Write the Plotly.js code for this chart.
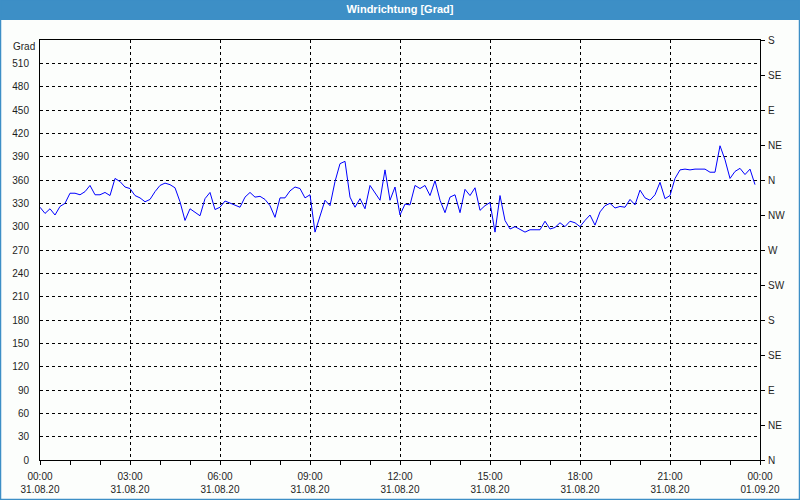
<!DOCTYPE html>
<html>
<head>
<meta charset="utf-8">
<script src="https://cdn.plot.ly/plotly-3.0.1.min.js"></script>
<style>html,body{margin:0;padding:0;background:#fcfefc;}#chart{width:800px;height:500px;}</style>
</head>
<body>
<div id="chart"></div>
<script>
// Wind direction (degrees), 10-minute values from 31.08.20 00:00 to 23:50
const startTime = '2020-08-31 00:00';
const stepMs = 600000;
const windDirection = [
  325,317,323,315,326,330,343,343,341,345,
  353,341,341,344,340,362,358,351,349,340,
  337,332,335,345,353,356,354,350,332,308,
  323,318,314,336,344,322,325,333,330,327,
  325,338,344,338,339,335,327,312,337,337,
  346,351,349,337,341,293,312,334,327,358,
  381,384,338,325,336,323,353,343,334,373,
  334,351,
  315,329,328,353,349,353,340,359,334,318,
  338,341,318,348,340,350,321,327,331,293,
  340,308,297,300,297,293,296,296,296,307,
  297,299,305,300,307,305,300,308,315,302,
  319,327,330,324,326,325,335,328,347,337,
  334,341,357,336,340,362,373,374,373,374,
  374,374,370,370,404,386,362,371,375,367,
  374,354
];
const xTickVals = ['2020-08-31 00:00','2020-08-31 03:00','2020-08-31 06:00','2020-08-31 09:00','2020-08-31 12:00','2020-08-31 15:00','2020-08-31 18:00','2020-08-31 21:00','2020-09-01 00:00'];
const xTickText = ['00:00<br>31.08.20','03:00<br>31.08.20','06:00<br>31.08.20','09:00<br>31.08.20','12:00<br>31.08.20','15:00<br>31.08.20','18:00<br>31.08.20','21:00<br>31.08.20','00:00<br>01.09.20'];
const yTickVals = [0,30,60,90,120,150,180,210,240,270,300,330,360,390,420,450,480,510];
const compassVals = [0,45,90,135,180,225,270,315,360,405,450,495,540];
const compassText = ['N','NE','E','SE','S','SW','W','NW','N','NE','E','SE','S'];
const titleText = 'Windrichtung [Grad]';
const unitText = 'Grad';

const fontFam = 'Liberation Sans, Arial, sans-serif';
const txtColor = '#1e1e1e';

const traces = [
  {x0: startTime, dx: stepMs, y: windDirection, type: 'scatter', mode: 'lines',
   line: {color: '#0000ff', width: 1}, hoverinfo: 'skip', showlegend: false},
  {x0: startTime, dx: stepMs, y: windDirection, type: 'scatter', mode: 'lines', yaxis: 'y2',
   line: {color: 'rgba(0,0,0,0)', width: 0}, hoverinfo: 'skip', showlegend: false}
];

const pxX = p => (p - 40) / 720;
const pxY = p => (460 - p) / 420;

const layout = {
  width: 800, height: 500,
  margin: {l: 40, r: 40, t: 40, b: 40, pad: 0},
  paper_bgcolor: '#fcfefc', plot_bgcolor: '#fcfefc',
  font: {family: fontFam, size: 10, color: txtColor},
  title: {text: titleText, font: {family: fontFam, size: 11, color: '#ffffff', weight: 'bold'},
          x: 0.5, xref: 'container', y: 0.981, yref: 'container', yanchor: 'middle', xanchor: 'center'},
  xaxis: {
    type: 'date', range: ['2020-08-31 00:00', '2020-09-01 00:00'],
    tickvals: xTickVals, ticktext: xTickText, tickangle: 0,
    ticks: 'outside', ticklen: 4, tickcolor: '#000', tickwidth: 1,
    showgrid: true, gridcolor: '#000', griddash: '3px,3px', gridwidth: 1,
    showline: true, linecolor: '#000', linewidth: 1, mirror: true,
    zeroline: false, ticklabelstandoff: 3,
    minor: {dtick: 3600000, ticks: 'outside', ticklen: 4, tickcolor: '#000', showgrid: false},
    tickfont: {family: fontFam, size: 10, color: txtColor}, fixedrange: true
  },
  yaxis: {
    range: [0, 540], tickvals: yTickVals, ticks: '', 
    showgrid: true, gridcolor: '#000', griddash: '3px,3px', gridwidth: 1,
    showline: true, linecolor: '#000', linewidth: 1, mirror: false,
    zeroline: false, ticklabelstandoff: 8,
    tickfont: {family: fontFam, size: 10, color: txtColor}, fixedrange: true
  },
  yaxis2: {
    range: [0, 540], overlaying: 'y', side: 'right', anchor: 'x',
    tickvals: compassVals, ticktext: compassText,
    ticks: 'outside', ticklen: 4, tickcolor: '#000',
    showgrid: false, showline: true, linecolor: '#000', linewidth: 1, zeroline: false,
    ticklabelstandoff: 1,
    tickfont: {family: fontFam, size: 10, color: txtColor}, fixedrange: true
  },
  shapes: [
    {type: 'rect', xref: 'paper', yref: 'paper', layer: 'below',
     x0: pxX(0), x1: pxX(800), y0: pxY(20), y1: pxY(0),
     fillcolor: '#3d8fc6', line: {width: 0}},
    {type: 'rect', xref: 'paper', yref: 'paper', layer: 'above',
     x0: pxX(0.5), x1: pxX(799.5), y0: pxY(499.5), y1: pxY(0),
     fillcolor: 'rgba(0,0,0,0)', line: {color: '#3d8fc6', width: 1.5}}
  ],
  annotations: [
    {text: unitText, xref: 'paper', yref: 'y', x: pxX(37), y: 540, xanchor: 'right', yanchor: 'top',
     showarrow: false, font: {family: fontFam, size: 10, color: txtColor}, yshift: 1}
  ]
};

Plotly.newPlot('chart', traces, layout, {displayModeBar: false, staticPlot: true});
</script>
</body>
</html>
